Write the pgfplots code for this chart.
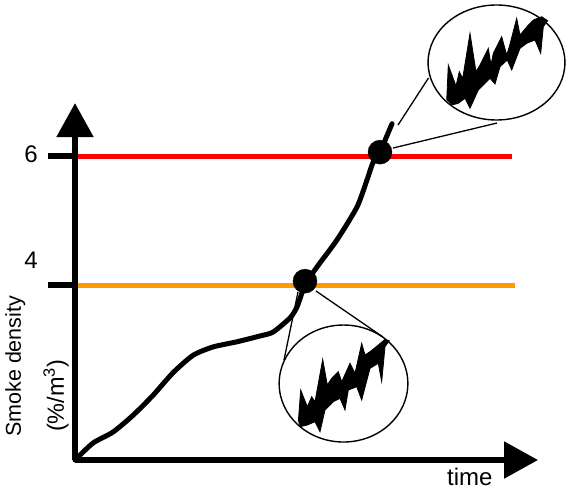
\documentclass[border=0pt]{standalone}
\usepackage{fontspec}
\setmainfont{Liberation Sans}
\usepackage{pgfplots}
\usepackage{pgfplotstable}
\pgfplotsset{compat=1.18}
\usetikzlibrary{arrows.meta}
\definecolor{limRed}{RGB}{255,0,0}
\definecolor{limOrange}{RGB}{255,153,0}

% zoomed insets, traced in picture pixels (x right, y down)
\pgfplotstableread{
446.7 100
448.3 65
456 86
459.3 71.7
462.7 78.3
470 33.3
476 71.7
480 65
488.3 48.3
491 65
493.3 53.3
501.7 36.7
506.7 55
509.3 46.7
516.7 18.3
520 35
528.3 25
533.3 20
541.7 16.7
547.7 20.7
543.3 26.7
540.7 53.3
535 40
526.7 43.3
520 48.3
511.7 70
507.3 60
500 66.7
495 84
490 78.3
485 83.3
478.3 90
470 108.3
465 98.3
458.3 103.3
451.7 105
}\zoomhigh
\pgfplotstableread{
298.3 421.7
300.7 390
307.3 406.7
311.7 396.7
315 401.7
322.7 359.3
327.3 385
331.7 378.3
338.3 371.7
341.7 381.7
350 363.3
355 373.3
361.7 343.3
365 355
370 351.7
378.3 345
385 339.3
389.3 340.7
385 346.7
381.7 381.7
378.3 363.3
370 368.3
361.7 400
356.7 386.7
348.3 390
345 410
340 398.3
333.3 401.7
325 410
320 431.7
315 421.7
307.3 425
300 426.7
}\zoomlow

\pgfplotsset{
  table/px/.style={/pgfplots/table/x expr=(\thisrowno{0}-75)/50,
                   /pgfplots/table/y expr={4+(285-\thisrowno{1})/64.5}},
}

\begin{document}
\begin{tikzpicture}
\begin{axis}[
  x=50pt, y=64.5pt,
  xmin=0, xmax=9.26,
  ymin=1.287, ymax=6.82,
  axis lines=left,
  axis on top,
  clip=false,
  axis line style={line width=5.5pt, -{Triangle[length=34pt,width=36pt]}},
  xtick=\empty,
  ytick={4,6},
  yticklabels={},
  tick align=outside,
  major tick length=27pt,
  tick style={line width=5.5pt, black},
]
% keeps the page the size of the reference
\addplot[draw=none] coordinates {(-1.5,0.80) (9.84,8.419)};

\addplot[limRed, line width=5pt] coordinates {(0,6) (8.74,6)};
\addplot[limOrange, line width=5pt] coordinates {(0,4) (8.8,4)};

% connector lines
\addplot[black, line width=1.3pt] table[header=false, px] {
393 148
497 123
};
\addplot[black, line width=1.3pt] table[header=false, px] {
398 125
428.5 78
};
\addplot[black, line width=1.3pt] table[header=false, px] {
316 291
383 337
};
\addplot[black, line width=1.3pt] table[header=false, px] {
298 292
284 360
};

% magnifier circles
\addplot[only marks, mark=o, mark size=57.5pt,
  mark options={xscale=1.19, draw=black, line width=1.4pt}]
  coordinates {(8.43,7.45)};
\addplot[only marks, mark=o, mark size=58.5pt,
  mark options={xscale=1.10, draw=black, line width=1.4pt}]
  coordinates {(5.37,2.473)};

\addplot[fill=black, draw=black, line width=0.8pt, line join=miter] table[px] {\zoomhigh};
\addplot[fill=black, draw=black, line width=0.8pt, line join=miter] table[px] {\zoomlow};

% smoke density
\addplot[black, line width=5pt, line join=round, line cap=round, smooth, tension=0.4] coordinates {
  (0,1.287) (0.36,1.55) (0.76,1.72) (1.16,1.98) (1.56,2.29) (1.96,2.64)
  (2.36,2.91) (2.76,3.04) (3.24,3.12) (3.70,3.21) (3.96,3.27) (4.30,3.49)
  (4.44,3.66) (4.60,4.00) (4.84,4.28) (5.24,4.70) (5.64,5.21) (5.84,5.63)
  (5.96,5.90) (6.10,6.06) (6.22,6.28) (6.34,6.50)
};
\addplot[only marks, mark=*, mark size=12pt, black] coordinates {(4.6,4.06) (6.1,6.06)};

\node[font=\fontsize{24}{28}\selectfont] at (axis cs:-0.88,6.03) {6};
\node[font=\fontsize{24}{28}\selectfont] at (axis cs:-0.88,4.39) {4};
\node[font=\fontsize{21.5}{24}\selectfont, rotate=90, anchor=base west, inner sep=0pt]
  at (axis cs:-1.08,1.643) {Smoke density};
\node[font=\fontsize{23.5}{26}\selectfont, rotate=90, anchor=base west, inner sep=0pt]
  at (axis cs:-0.22,1.72) {(\%/m\textsuperscript{3})};
\node[font=\fontsize{24}{28}\selectfont, anchor=base west, inner sep=0pt]
  at (axis cs:7.44,0.89) {time};
\end{axis}
\end{tikzpicture}
\end{document}
